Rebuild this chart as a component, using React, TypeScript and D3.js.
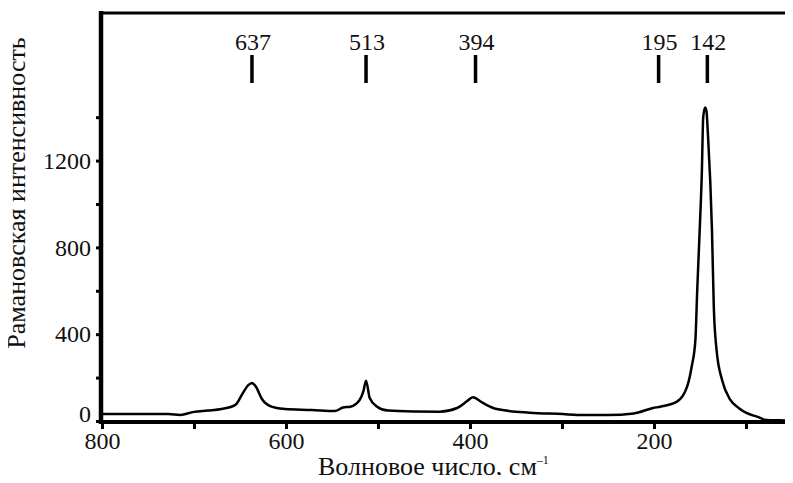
import React, { useRef, useEffect } from "react";
import * as d3 from "d3";

// spectrum (wavenumber, cm^-1 -> raman intensity)
const wavenumber = [
  800, 760, 728, 715, 700, 685, 670, 655, 647, 641, 637, 633, 626, 615, 601,
  572, 547, 538, 530, 520, 516, 513, 509, 501, 489, 460, 433, 414, 403, 397,
  386, 371, 335, 299, 283, 250, 222, 201, 193, 175, 164, 159, 155, 153, 150,
  148, 146.5, 144.5, 143, 141.5, 137, 135, 132, 126, 117, 108, 99, 88, 78, 63, 50,
];
const intensity = [
  32, 32, 32, 28, 42, 48, 55, 74, 128, 165, 175, 160, 100, 65, 55,
  51, 46, 62, 66, 97, 135, 186, 106, 66, 48, 44, 43, 60, 92, 109,
  83, 55, 38, 32, 28, 28, 35, 60, 66, 89, 158, 251, 374, 605, 914,
  1144, 1400, 1445, 1430, 1330, 881, 527, 328, 189, 97, 60, 36, 20, 5, 3, 2,
];

const peakLabels = [637, 513, 394, 195, 142];
const yTickValues = [0, 200, 400, 600, 800, 1000, 1200, 1400];
const yLabelValues = [0, 400, 800, 1200];
const xTickValues = [800, 700, 600, 500, 400, 300, 200, 100];
const xLabelValues = [800, 600, 400, 200];

function App() {
  const ref = useRef<HTMLDivElement>(null);

  useEffect(() => {
    const width = 793,
      height = 483;
    const left = 102,
      right = 792,
      top = 13,
      bottom = 421;
    const font = "Liberation Serif, DejaVu Serif, serif";

    d3.select(ref.current).selectAll("*").remove();
    const svg = d3
      .select(ref.current)
      .append("svg")
      .attr("width", width)
      .attr("height", height)
      .style("display", "block")
      .style("background", "#fff")
      .style("font-family", font);

    const x = d3.scaleLinear().domain([800, 50]).range([left, right]);
    const y = d3.scaleLinear().domain([0, 1880]).range([bottom, top]);

    // x axis
    const xAxis = svg
      .append("g")
      .attr("transform", "translate(0," + (bottom + 1) + ")")
      .call(
        d3
          .axisBottom(x)
          .tickValues(xTickValues)
          .tickSize(7)
          .tickPadding(3)
          .tickFormat((d) => (xLabelValues.includes(+d) ? String(d) : ""))
      );
    xAxis.attr("font-family", null);
    xAxis.select(".domain").remove();
    xAxis.selectAll("line").attr("stroke", "#000").attr("stroke-width", 3);
    xAxis
      .selectAll("text")
      .style("font-family", font)
      .attr("font-size", 24)
      .attr("fill", "#111");

    // y axis
    const yAxis = svg
      .append("g")
      .attr("transform", "translate(" + (left - 1) + ",0)")
      .call(
        d3
          .axisLeft(y)
          .tickValues(yTickValues)
          .tickSize(5)
          .tickPadding(5)
          .tickFormat((d) => (yLabelValues.includes(+d) ? String(d) : ""))
      );
    yAxis.attr("font-family", null);
    yAxis.select(".domain").remove();
    yAxis.selectAll("line").attr("stroke", "#000").attr("stroke-width", 3);
    yAxis
      .selectAll("text")
      .style("font-family", font)
      .attr("font-size", 24)
      .attr("fill", "#111")
      .attr("dy", (d: any) => (+d === 0 ? "0" : "0.32em"));

    // frame: left and bottom thick, top thinner
    svg
      .append("line")
      .attr("x1", left - 1)
      .attr("x2", left - 1)
      .attr("y1", top - 2)
      .attr("y2", bottom + 3)
      .attr("stroke", "#000")
      .attr("stroke-width", 4.5);
    svg
      .append("line")
      .attr("x1", left - 3)
      .attr("x2", width)
      .attr("y1", bottom + 1)
      .attr("y2", bottom + 1)
      .attr("stroke", "#000")
      .attr("stroke-width", 4);
    svg
      .append("line")
      .attr("x1", left - 3)
      .attr("x2", width)
      .attr("y1", top)
      .attr("y2", top)
      .attr("stroke", "#000")
      .attr("stroke-width", 3);

    // spectrum
    const pts = wavenumber.map((w, i) => [w, intensity[i]] as [number, number]);
    svg
      .append("path")
      .datum(pts)
      .attr("fill", "none")
      .attr("stroke", "#000")
      .attr("stroke-width", 2.5)
      .attr("stroke-linejoin", "round")
      .attr(
        "d",
        d3
          .line<[number, number]>()
          .curve(d3.curveMonotoneX)
          .x((d) => x(d[0]))
          .y((d) => y(d[1]))
      );

    // peak markers
    const peaks = svg.append("g");
    peaks
      .selectAll("rect")
      .data(peakLabels)
      .join("rect")
      .attr("x", (d) => x(d) - 1.75)
      .attr("y", 55)
      .attr("width", 3.5)
      .attr("height", 28)
      .attr("fill", "#000");
    peaks
      .selectAll("text")
      .data(peakLabels)
      .join("text")
      .attr("x", (d) => x(d) + 1)
      .attr("y", 50)
      .attr("text-anchor", "middle")
      .attr("font-size", 24)
      .attr("fill", "#111")
      .text((d) => d);

    // axis titles
    const xt = svg
      .append("text")
      .attr("x", 318)
      .attr("y", 475)
      .attr("font-size", 26)
      .attr("fill", "#111");
    xt.append("tspan").text("Волновое число, см");
    xt.append("tspan").attr("dy", -11).attr("font-size", 12).text("\u20131");

    svg
      .append("text")
      .attr("transform", "translate(25,193) rotate(-90)")
      .attr("text-anchor", "middle")
      .attr("font-size", 26)
      .attr("fill", "#111")
      .text("Рамановская интенсивность");
  }, []);

  return <div ref={ref} style={{ margin: -8, width: 793, height: 483 }}></div>;
}

export default App;
